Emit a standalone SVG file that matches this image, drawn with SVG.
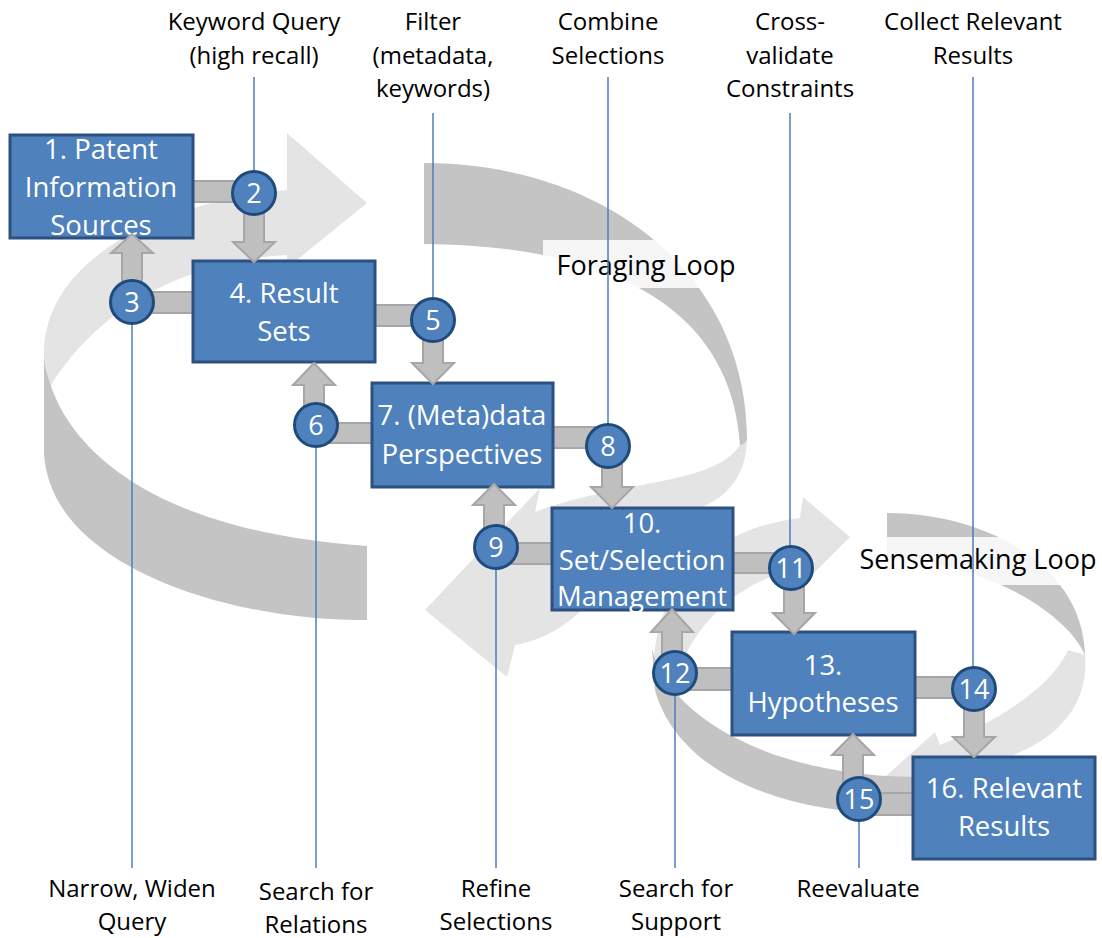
<svg xmlns="http://www.w3.org/2000/svg" width="1102" height="938" viewBox="0 0 1102 938">
<defs>
<style>
.lt{fill:#e4e4e4}
.dk{fill:#c4c4c4}
.box{fill:#4f81bd;stroke:#2c5080;stroke-width:3}
.cir{fill:#4f81bd;stroke:#1f4a7c;stroke-width:3}
.bt{font-family:'Open Sans','Noto Sans',sans-serif;font-size:27.5px;fill:#ffffff;text-anchor:middle}
.ct{font-family:'Open Sans','Noto Sans',sans-serif;font-size:27px;fill:#ffffff;text-anchor:middle}
.lab{font-family:'Open Sans','Noto Sans',sans-serif;font-size:24px;fill:#000000;text-anchor:middle}
.loop{font-family:'Open Sans','Noto Sans',sans-serif;font-size:27px;fill:#000000;text-anchor:middle}
.ln{stroke:#4a7ebb;stroke-width:1.5;fill:none}
.con{fill:#bfbfbf;stroke:#a6a6a6;stroke-width:2}
.bg{fill:#ffffff;opacity:0.85}
</style>
</defs>
<rect x="0" y="0" width="1102" height="938" fill="#ffffff"/>

<g id="loops">
  <path class="lt" d="M44,353 C44,270 140,205 287,190 L287,133 L367,203 L287,268 L287,255 C170,262 90,320 50,387 Z"/>
  <path class="lt" d="M747,440 C745,485 720,508 660,520 C620,540 600,630 515,645 L507,677 L425,610 L540,488 L535,512 C620,480 715,485 740,445 Z"/>
  <path class="lt" d="M655,690 C645,600 700,530 800,518 L803,497 L850,537 L805,582 L802,568 C740,580 690,620 668,700 Z"/>
  <path class="lt" d="M1085,655 C1090,710 1050,750 980,765 L960,800 L885,777 L935,732 L940,745 C990,725 1050,690 1068,650 Z"/>

  <path class="dk" d="M367,546 L367,620 C240,622 50,570 44,453 L44,353 C50,430 130,530 367,546 Z"/>
  <path class="dk" d="M424,163 C600,163 747,270 747,440 C745,443 742,445 740,445 C730,290 580,245 424,244 Z"/>
  <path class="dk" d="M913,777 L913,813 C800,818 680,780 655,690 L652,648 C665,710 760,775 913,777 Z"/>
  <path class="dk" d="M887,513 C985,513 1083,565 1085,655 C1070,620 1000,565 887,558 Z"/>
</g>

<g id="loop-labels">
  <rect class="bg" x="543" y="240" width="195" height="48"/>
  <text class="loop" x="646" y="275">Foraging Loop</text>
  <rect class="bg" x="850" y="537" width="252" height="48"/>
  <text class="loop" x="978" y="569">Sensemaking Loop</text>
</g>

<g id="connectors">
  <g id="label-lines">
    <line class="ln" x1="254" y1="77" x2="254" y2="172"/>
    <line class="ln" x1="433" y1="113" x2="433" y2="299"/>
    <line class="ln" x1="608" y1="77" x2="608" y2="425"/>
    <line class="ln" x1="790" y1="113" x2="790" y2="547"/>
    <line class="ln" x1="973" y1="77" x2="973" y2="668"/>
    <line class="ln" x1="132" y1="323" x2="132" y2="868"/>
    <line class="ln" x1="316" y1="446" x2="316" y2="868"/>
    <line class="ln" x1="496" y1="568" x2="496" y2="868"/>
    <line class="ln" x1="675" y1="694" x2="675" y2="868"/>
    <line class="ln" x1="859" y1="820" x2="859" y2="868"/>
  </g>
  <g id="bars">
    <rect class="con" x="190" y="181" width="64" height="21"/>
    <rect class="con" x="132" y="292" width="64" height="21"/>
    <rect class="con" x="372" y="305" width="60" height="21"/>
    <rect class="con" x="316" y="423" width="59" height="20"/>
    <rect class="con" x="550" y="427" width="58" height="21"/>
    <rect class="con" x="495" y="543" width="60" height="21"/>
    <rect class="con" x="730" y="553" width="61" height="20"/>
    <rect class="con" x="674" y="668" width="61" height="22"/>
    <rect class="con" x="912" y="677" width="62" height="21"/>
    <rect class="con" x="858" y="793" width="58" height="22"/>
  </g>
</g>

<g id="node1"><rect class="box" x="10" y="135" width="183" height="103"/>
  <text class="bt" x="101" y="159">1. Patent</text><text class="bt" x="101" y="197">Information</text><text class="bt" x="101" y="235">Sources</text></g>
<g id="node4"><rect class="box" x="193" y="261" width="182" height="101"/>
  <text class="bt" x="284" y="303">4. Result</text><text class="bt" x="284" y="341">Sets</text></g>
<g id="node7"><rect class="box" x="372" y="383" width="181" height="104"/>
  <text class="bt" x="462" y="425">7. (Meta)data</text><text class="bt" x="462" y="464">Perspectives</text></g>
<g id="node10"><rect class="box" x="552" y="508" width="181" height="102"/>
  <text class="bt" x="642" y="533">10.</text><text class="bt" x="642" y="570">Set/Selection</text><text class="bt" x="642" y="606">Management</text></g>
<g id="node13"><rect class="box" x="732" y="632" width="183" height="103"/>
  <text class="bt" x="823" y="675">13.</text><text class="bt" x="823" y="712">Hypotheses</text></g>
<g id="node16"><rect class="box" x="913" y="757" width="182" height="102"/>
  <text class="bt" x="1004" y="798">16. Relevant</text><text class="bt" x="1004" y="836">Results</text></g>

<g id="arrows">
  <polygon class="con" points="244,205 264,205 264,242 275,242 254,262 233,242 244,242"/>
  <polygon class="con" points="423,330 443,330 443,363 454,363 433,384 412,363 423,363"/>
  <polygon class="con" points="602,455 622,455 622,487 633,487 612,508 591,487 602,487"/>
  <polygon class="con" points="784,578 804,578 804,613 815,613 794,634 773,613 784,613"/>
  <polygon class="con" points="964,700 984,700 984,737 995,737 974,757 953,737 964,737"/>
  <polygon class="con" points="122,290 142,290 142,253 153,253 132,234 111,253 122,253"/>
  <polygon class="con" points="304,415 324,415 324,385 335,385 314,363 293,385 304,385"/>
  <polygon class="con" points="484,537 504,537 504,505 515,505 494,484 473,505 484,505"/>
  <polygon class="con" points="662,663 682,663 682,632 693,632 672,609 651,632 662,632"/>
  <polygon class="con" points="843,790 863,790 863,755 874,755 853,734 832,755 843,755"/>
</g>

<g id="c2"><circle class="cir" cx="254" cy="193" r="21.5"/><text class="ct" x="254" y="203">2</text></g>
<g id="c3"><circle class="cir" cx="132" cy="302" r="21.5"/><text class="ct" x="132" y="312">3</text></g>
<g id="c5"><circle class="cir" cx="433" cy="320" r="21.5"/><text class="ct" x="433" y="330">5</text></g>
<g id="c6"><circle class="cir" cx="316" cy="425" r="21.5"/><text class="ct" x="316" y="435">6</text></g>
<g id="c8"><circle class="cir" cx="608" cy="446" r="21.5"/><text class="ct" x="608" y="456">8</text></g>
<g id="c9"><circle class="cir" cx="496" cy="547" r="21.5"/><text class="ct" x="496" y="557">9</text></g>
<g id="c11"><circle class="cir" cx="791" cy="568" r="21.5"/><text class="ct" x="791" y="578">11</text></g>
<g id="c12"><circle class="cir" cx="675" cy="673" r="21.5"/><text class="ct" x="675" y="683">12</text></g>
<g id="c14"><circle class="cir" cx="974" cy="689" r="21.5"/><text class="ct" x="974" y="699">14</text></g>
<g id="c15"><circle class="cir" cx="859" cy="799" r="21.5"/><text class="ct" x="859" y="809">15</text></g>

<g id="labels">
  <text class="lab" x="254" y="30">Keyword Query</text><text class="lab" x="254" y="64">(high recall)</text>
  <text class="lab" x="433" y="30">Filter</text><text class="lab" x="433" y="64">(metadata,</text><text class="lab" x="433" y="97">keywords)</text>
  <text class="lab" x="608" y="30">Combine</text><text class="lab" x="608" y="64">Selections</text>
  <text class="lab" x="790" y="30">Cross-</text><text class="lab" x="790" y="64">validate</text><text class="lab" x="790" y="97">Constraints</text>
  <text class="lab" x="973" y="30">Collect Relevant</text><text class="lab" x="973" y="64">Results</text>
  <text class="lab" x="132" y="897">Narrow, Widen</text><text class="lab" x="132" y="930">Query</text>
  <text class="lab" x="316" y="900">Search for</text><text class="lab" x="316" y="933">Relations</text>
  <text class="lab" x="496" y="897">Refine</text><text class="lab" x="496" y="930">Selections</text>
  <text class="lab" x="676" y="897">Search for</text><text class="lab" x="676" y="930">Support</text>
  <text class="lab" x="858" y="897">Reevaluate</text>
</g>
</svg>
